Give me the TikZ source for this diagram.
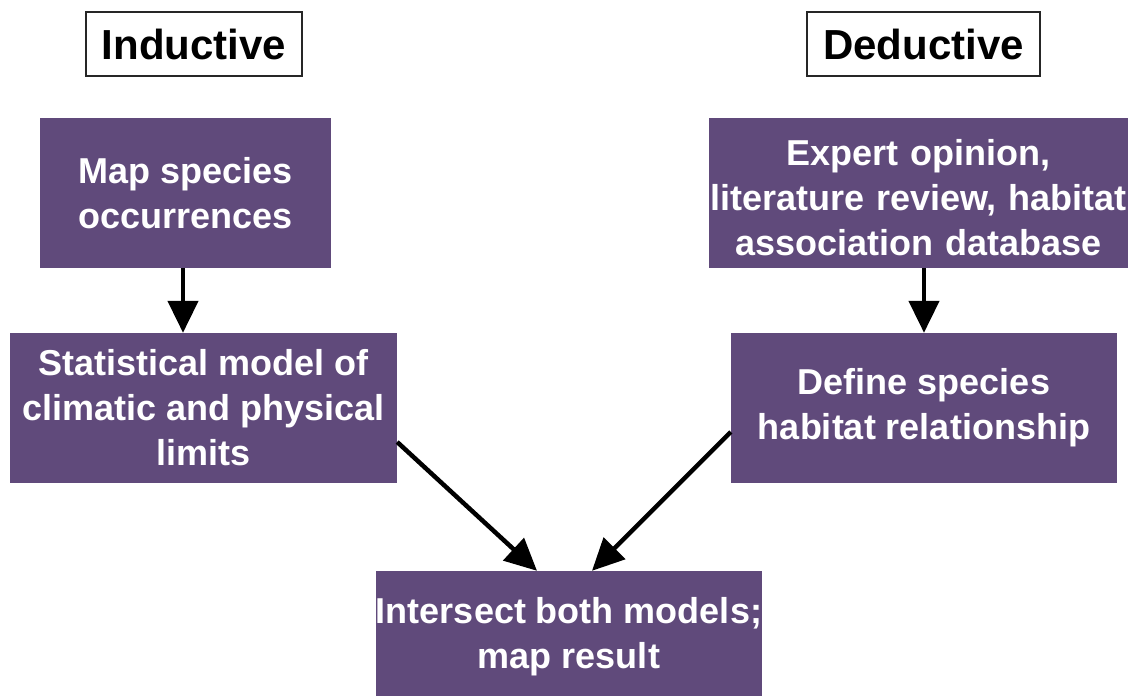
\documentclass[tikz,border=0pt]{standalone}
\usepackage{fontspec}
\setmainfont{Liberation Sans}
\usetikzlibrary{arrows.meta}
\definecolor{boxpurple}{HTML}{604A7B}
\begin{document}
\begin{tikzpicture}[x=1pt,y=-1pt,
  title/.style={draw=black!85, line width=1.2pt, fill=white, inner sep=0pt,
    font=\fontsize{42}{48}\selectfont\bfseries},
  stepbox/.style={fill=boxpurple, inner sep=0pt, text=white, align=center,
    font=\fontsize{36}{45}\selectfont\bfseries},
  flow/.style={line width=4.5pt, -{Triangle[width=30pt,length=32pt]}}]
\useasboundingbox[fill=white] (0,0) rectangle (1136,696);

% headings
\node[title, minimum width=216pt, minimum height=64pt] (ind) at (194,44) {Inductive};
\node[title, minimum width=233pt, minimum height=64pt] (ded) at (923.5,44) {Deductive};

% inductive branch
\node[stepbox, minimum width=291pt, minimum height=150pt] (map) at (185.5,193)
  {Map species\\occurrences};
\node[stepbox, minimum width=387pt, minimum height=150pt] (stat) at (203.5,408)
  {Statistical model of\\climatic and physical\\limits};

% deductive branch
\node[stepbox, minimum width=419pt, minimum height=150pt, text width=419pt] (exp) at (918.5,193)
  {\rule{0pt}{36pt}Expert opinion,\\\makebox[\linewidth][c]{literature review, habitat}\\association database};
\node[stepbox, minimum width=386pt, minimum height=150pt] (def) at (924,408)
  {Define species\\habitat relationship};

% combined result
\node[stepbox, minimum width=386pt, minimum height=132pt] (inter) at (569,637)
  {Intersect both models;\\map result};

% connectors
\draw[flow] ([xshift=-2.5pt]map.south) -- ([xshift=-2.5pt]map.south |- stat.north);
\draw[flow] (def.north |- exp.south) -- (def.north);
\draw[flow] ([yshift=-34pt]stat.east) -- ([xshift=-32pt]inter.north);
\draw[flow] ([yshift=-24pt]def.west) -- ([xshift=23pt]inter.north);
\end{tikzpicture}
\end{document}
